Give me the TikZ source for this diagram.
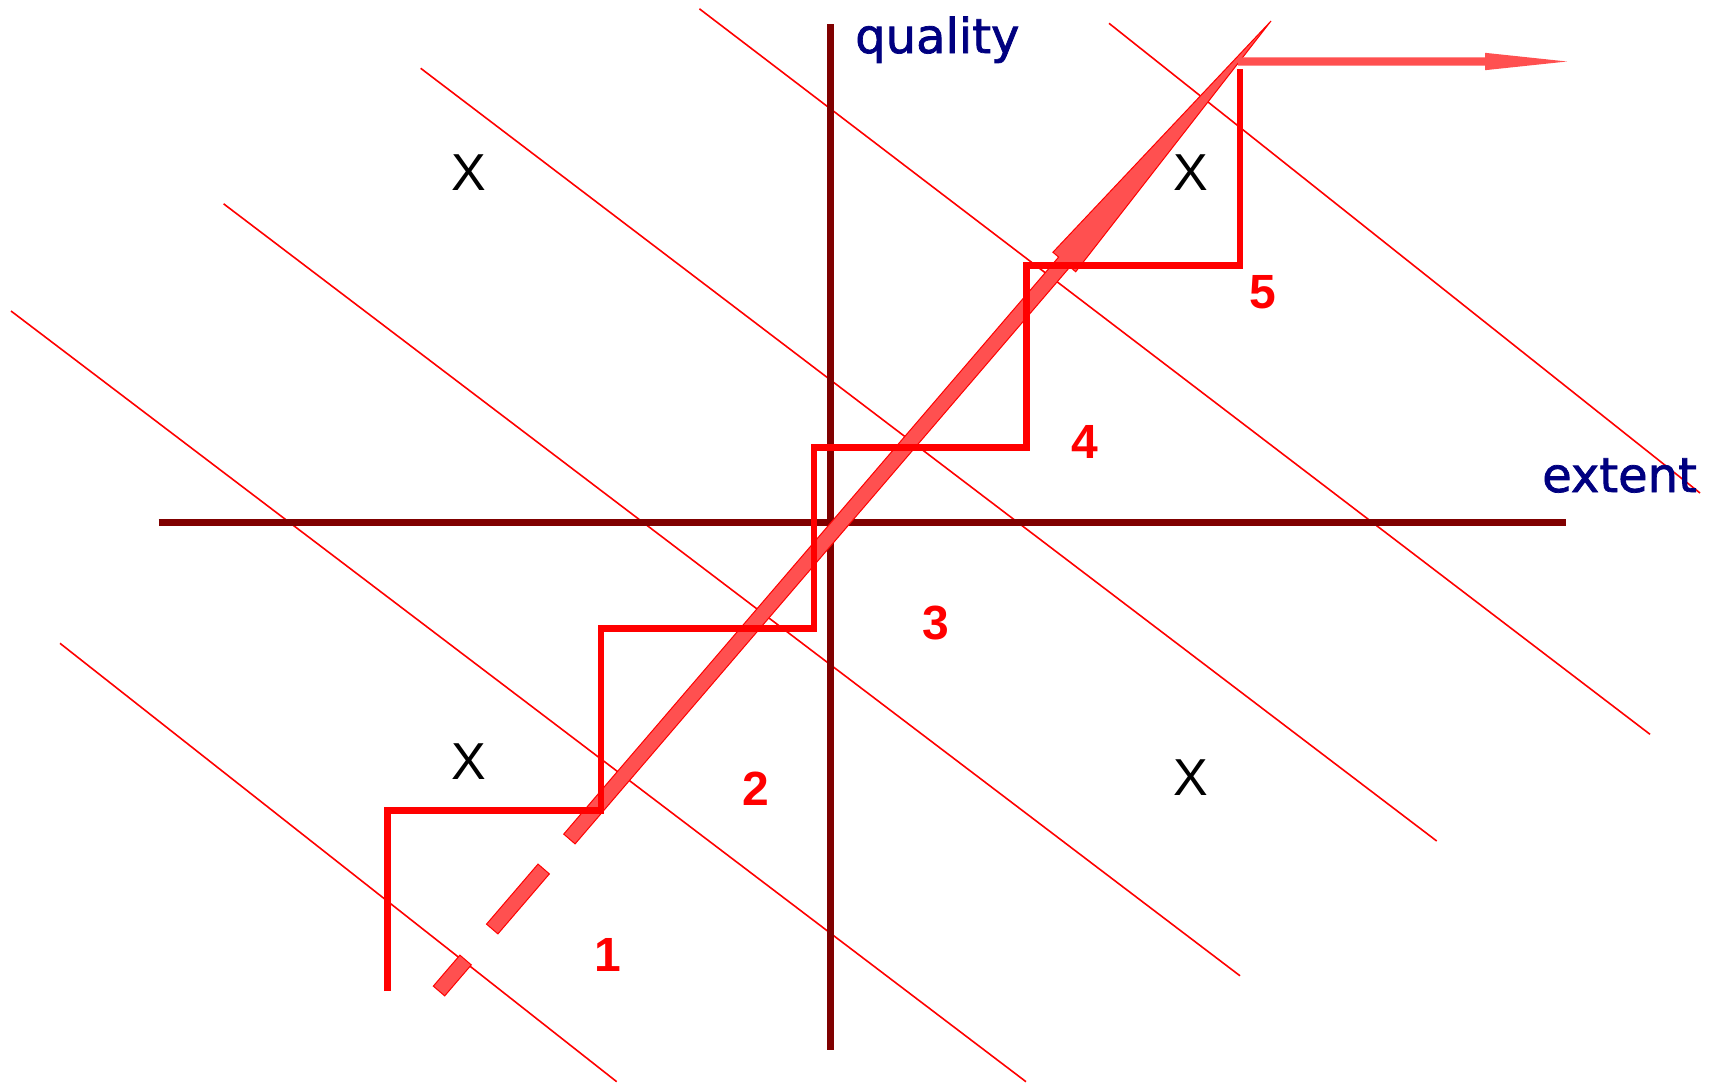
\documentclass[tikz,border=0pt]{standalone}
\usepackage{fontspec}
\setmainfont{Liberation Sans}
\newfontfamily\labelfont[FakeBold=1.5]{DejaVu Sans}
\usetikzlibrary{calc}
\definecolor{axisred}{HTML}{800000}
\definecolor{navyblue}{HTML}{000080}
\definecolor{arrowfill}{HTML}{FF5050}
\begin{document}
\begin{tikzpicture}[x=1pt,y=-1pt,
  thinline/.style={red, line width=1.6pt},
  axisline/.style={axisred, line width=7pt},
  stair/.style={red, line width=6.5pt, line join=miter},
  fat/.style={fill=arrowfill, draw=red, line width=1pt, line join=miter},
  flat/.style={fill=arrowfill, draw=none},
  xlab/.style={inner sep=0pt, font=\fontsize{52}{60}\selectfont, text=black},
  num/.style={inner sep=0pt, font=\fontsize{48}{56}\selectfont\bfseries, text=red},
  axlab/.style={inner sep=0pt, anchor=base west, font=\labelfont\fontsize{48}{56}\selectfont, text=navyblue}]
\useasboundingbox (0,0) rectangle (1727,1082);
% thin diagonal lines
\coordinate (l1a) at (60,643.3);    \coordinate (l1b) at (616.7,1081.7);
\coordinate (l2a) at (11,311);      \coordinate (l2b) at (1026,1081.7);
\coordinate (l3a) at (223.6,203.8); \coordinate (l3b) at (1240,975.8);
\coordinate (l4a) at (420.7,68.3);  \coordinate (l4b) at (1436.7,841);
\coordinate (l5a) at (699.4,8.8);   \coordinate (l5b) at (1650,734.3);
\coordinate (l6a) at (1109,23.3);   \coordinate (l6b) at (1700,493);
\foreach \i in {1,...,6} {\draw[thinline] (l\i a) -- (l\i b);}
% axes
\coordinate (vtop) at (830.5,24);   \coordinate (vbot) at (830.5,1050);
\coordinate (hleft) at (158.6,522.5); \coordinate (hright) at (1566,522.5);
\draw[axisline] (vtop) -- (vbot);
\draw[axisline] (hleft) -- (hright);
% fat arrow along the diagonal
\coordinate (tip) at (1271,21);
\coordinate (d1a) at (439.0,991); \coordinate (d1b) at (465.6,960);
\coordinate (d2a) at (492.2,929); \coordinate (d2b) at (543.7,869);
\coordinate (sa) at (569.4,839);  \coordinate (hb) at (1064.3,262);
\foreach \a/\b in {d1a/d1b, d2a/d2b} {
  \filldraw[fat] ($(\a)!7.5pt!90:(tip)$) -- ($(\b)!7.5pt!-90:(\a)$) -- ($(\b)!7.5pt!90:(\a)$) -- ($(\a)!7.5pt!-90:(tip)$) -- cycle;
}
\filldraw[fat] ($(sa)!7.5pt!90:(tip)$) -- ($(hb)!7.5pt!90:(tip)$) -- ($(hb)!15pt!90:(tip)$) -- (tip)
  -- ($(hb)!15pt!-90:(tip)$) -- ($(hb)!7.5pt!-90:(tip)$) -- ($(sa)!7.5pt!-90:(tip)$) -- cycle;
% horizontal arrow at the top
\coordinate (ha) at (1238,61.5); \coordinate (hh) at (1485,61.5); \coordinate (ht) at (1567,61.5);
\fill[flat] ($(ha)+(0,-4.2)$) -- ($(hh)+(0,-4.2)$) -- ($(hh)+(0,-8.7)$) -- (ht) -- ($(hh)+(0,8.7)$) -- ($(hh)+(0,4.2)$) -- ($(ha)+(0,4.2)$) -- cycle;
% staircase
\coordinate (s0) at (387.7,991);
\coordinate (s1) at (387.7,810.6); \coordinate (s2) at (601,810.6);
\coordinate (s3) at (601,628.5);   \coordinate (s4) at (814,628.5);
\coordinate (s5) at (814,447.5);   \coordinate (s6) at (1026.5,447.5);
\coordinate (s7) at (1026.5,265.4);\coordinate (s8) at (1240,265.4);
\coordinate (s9) at (1240,69.4);
\draw[stair] (s0) -- (s1) -- (s2) -- (s3) -- (s4) -- (s5) -- (s6) -- (s7) -- (s8) -- (s9);
% labels
\node[axlab] (quality) at (855,53) {quality};
\node[axlab] (extent) at (1542,492) {extent};
\node[xlab] (x1) at (469,173) {X};
\node[xlab] (x2) at (1190.6,173) {X};
\node[xlab] (x3) at (469,762) {X};
\node[xlab] (x4) at (1190.6,777.6) {X};
\node[num] (n1) at (607.5,955) {1};
\node[num] (n2) at (755.6,788.6) {2};
\node[num] (n3) at (936,623.4) {3};
\node[num] (n4) at (1085,441.7) {4};
\node[num] (n5) at (1263.3,291.9) {5};
\end{tikzpicture}
\end{document}
